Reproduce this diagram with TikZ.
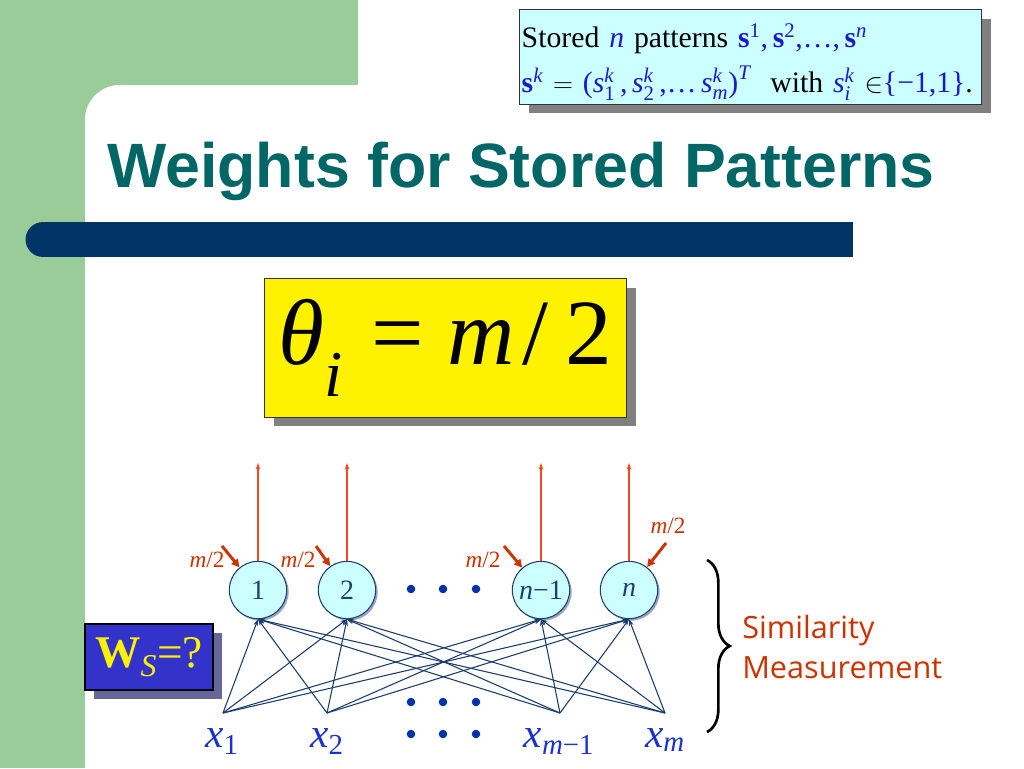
\documentclass[tikz,border=0pt]{standalone}
\usepackage{fontspec}
\usepackage{amsmath}
\setmainfont{Liberation Serif}
\newfontfamily\titlefont{Liberation Sans}
\newfontfamily\simfont{Open Sans}
\usetikzlibrary{arrows.meta,shadows,decorations.pathreplacing}
\definecolor{panelgreen}{HTML}{99CC99}
\definecolor{barnavy}{HTML}{003366}
\definecolor{titleteal}{HTML}{006666}
\definecolor{cyanfill}{HTML}{CCFFFF}
\definecolor{boxborder}{HTML}{333333}
\definecolor{greyshadow}{HTML}{808080}
\definecolor{nodeborder}{HTML}{1F3F6F}
\definecolor{edgec}{HTML}{1A3D6B}
\definecolor{redc}{HTML}{CC3300}
\definecolor{outc}{HTML}{F04A1E}
\definecolor{dotc}{HTML}{0033AA}
\definecolor{labc}{HTML}{1A33CC}
\definecolor{mblue}{HTML}{1A1ACC}
\definecolor{wfill}{HTML}{3333CC}
\definecolor{wshadow}{HTML}{666699}
\definecolor{nshadow}{HTML}{7080A8}
\newcommand\ssk[1]{\textit{s}^{\textit{k}}_{#1}}
\begin{document}
\begin{tikzpicture}[x=0.75pt,y=-0.75pt,
  neuron/.style={circle,minimum size=43pt,inner sep=0pt,fill=cyanfill,draw=nodeborder,line width=0.8pt,
    drop shadow={shadow xshift=1.5pt,shadow yshift=-1.5pt,fill=nshadow,opacity=0.7},
    text=nodeborder,font=\fontsize{21}{21}\selectfont},
  edgeline/.style={draw=edgec,line width=0.8pt,-{Stealth[length=5pt,width=3.5pt]}},
  outarrow/.style={draw=outc,line width=0.8pt,-{Stealth[length=5pt,width=3.5pt]}},
  biasarrow/.style={draw=redc,line width=2.2pt,-{Triangle[length=6pt,width=6pt]}},
  biaslab/.style={text=redc,font=\fontsize{17.5}{17.5}\selectfont,inner sep=0pt},
  xlab/.style={text=labc,font=\fontsize{31}{31}\selectfont,inner sep=0pt,anchor=base},
  dotmark/.style={fill=dotc},
  shadowbox/.style={drop shadow={shadow xshift=7pt,shadow yshift=-7pt,fill=greyshadow,opacity=1}},
]
\useasboundingbox (0,0) rectangle (1024,768);
% background
\fill[white] (0,0) rectangle (1024,768);
\fill[panelgreen] (0,0) rectangle (358,140);
\fill[panelgreen] (0,0) rectangle (85,768);
\fill[white,rounded corners=26pt] (85,85) rectangle (420,900);
% navy bar
\fill[barnavy] (43,222) rectangle (853,257);
\fill[barnavy] (43,239.5) circle (13.1pt);
% title
\node[anchor=base west,inner sep=0pt,text=titleteal,font=\titlefont\bfseries\fontsize{47}{47}\selectfont] (title) at (107,187) {Weights for Stored Patterns};
% top right box
\node[anchor=north west,shadowbox,fill=cyanfill,draw=boxborder,line width=0.6pt,minimum width=346.5pt,minimum height=71pt,inner xsep=1.5pt,inner ysep=2pt,text width=343pt,align=left,font=\fontsize{22.3}{34}\selectfont] (defs) at (519,9)
{\rule{0pt}{26pt}Stored \textcolor{mblue}{\textit{n}} patterns \textcolor{mblue}{$\textbf{s}^{\text{1}}\text{,}\,\textbf{s}^{\text{2}}\text{,…,}\,\textbf{s}^{\textit{n}}$}\\
\textcolor{mblue}{$\textbf{s}^{\textit{k}}$}\ $=$ \textcolor{mblue}{$\text{(}\ssk{\text{1}}\,\text{,}\,\ssk{\text{2}}\,\text{,…}\,\ssk{\textit{m}}\text{)}^{\textit{T}}$}\ \ with \textcolor{mblue}{$\ssk{\textit{i}}$}\ $\in$\textcolor{mblue}{\{−1,1\}}.};
% theta box
\node[anchor=north west,shadowbox,fill=yellow,draw=boxborder,line width=0.6pt,minimum width=271.5pt,minimum height=104pt,inner sep=0pt,font=\fontsize{70}{70}\selectfont] (theta) at (264,278)
{$\textit{θ}_{\textit{i}}\hspace{0.3em}\text{=}\hspace{0.25em}\textit{m}\hspace{0.08em}\text{/}\hspace{0.18em}\text{2}$};
% neurons
\node[neuron] (h1) at (258,590) {1};
\node[neuron] (h2) at (347,590) {2};
\node[neuron] (h3) at (541,590) {\textit{n}−1};
\node[neuron] (h4) at (629,590) {\textit{n}};
% outputs
\coordinate (o1) at (258,463);
\coordinate (o2) at (347,463);
\coordinate (o3) at (541,463);
\coordinate (o4) at (629,463);
\foreach \i in {1,2,3,4} \draw[outarrow] (h\i) -- (o\i);
% bias arrows
\coordinate (b1) at (222,546);
\coordinate (b2) at (316,546);
\coordinate (b3) at (504,546);
\coordinate (b4) at (666,543);
\foreach \i in {1,2,3,4} \draw[biasarrow] (b\i) -- (h\i);
\node[biaslab] (m1) at (207,560) {\textit{m}/2};
\node[biaslab] (m2) at (298,560) {\textit{m}/2};
\node[biaslab] (m3) at (483,560) {\textit{m}/2};
\node[biaslab] (m4) at (668,526) {\textit{m}/2};
% inputs
\coordinate (a1) at (223,713);
\coordinate (a2) at (327,713);
\coordinate (a3) at (560,713);
\coordinate (a4) at (665,713);
\foreach \a in {1,2,3,4}
  \foreach \h in {1,2,3,4}
    \draw[edgeline] (a\a) -- (h\h.south);
\node[xlab] (x1) at (222,747) {$\textit{x}_{\text{1}}$};
\node[xlab] (x2) at (327,747) {$\textit{x}_{\text{2}}$};
\node[xlab] (x3) at (559,747) {$\textit{x}_{\textit{m}\text{−1}}$};
\node[xlab] (x4) at (665,747) {$\textit{x}_{\textit{m}}$};
% dots
\foreach \y in {589,702,734}
  \foreach \x in {411,443,476}
    \fill[dotmark] (\x,\y) circle (3.2pt);
% W box
\node[drop shadow={shadow xshift=7pt,shadow yshift=-7pt,fill=wshadow,opacity=1},fill=wfill,draw=black,line width=0.8pt,minimum width=96pt,minimum height=49.5pt,inner sep=0pt,text=yellow,font=\fontsize{34}{34}\selectfont] (ws) at (149,657) {\textbf{W}$_{\textit{S}}$=?};
% brace and similarity
\draw[line width=2pt,decorate,decoration={brace,amplitude=17pt}] (707,560) -- (707,732);
\node[anchor=west,inner sep=0pt,align=left,text=redc,font=\simfont\fontsize{23}{30}\selectfont] (sim) at (742,647) {Similarity\\Measurement};
\end{tikzpicture}
\end{document}
